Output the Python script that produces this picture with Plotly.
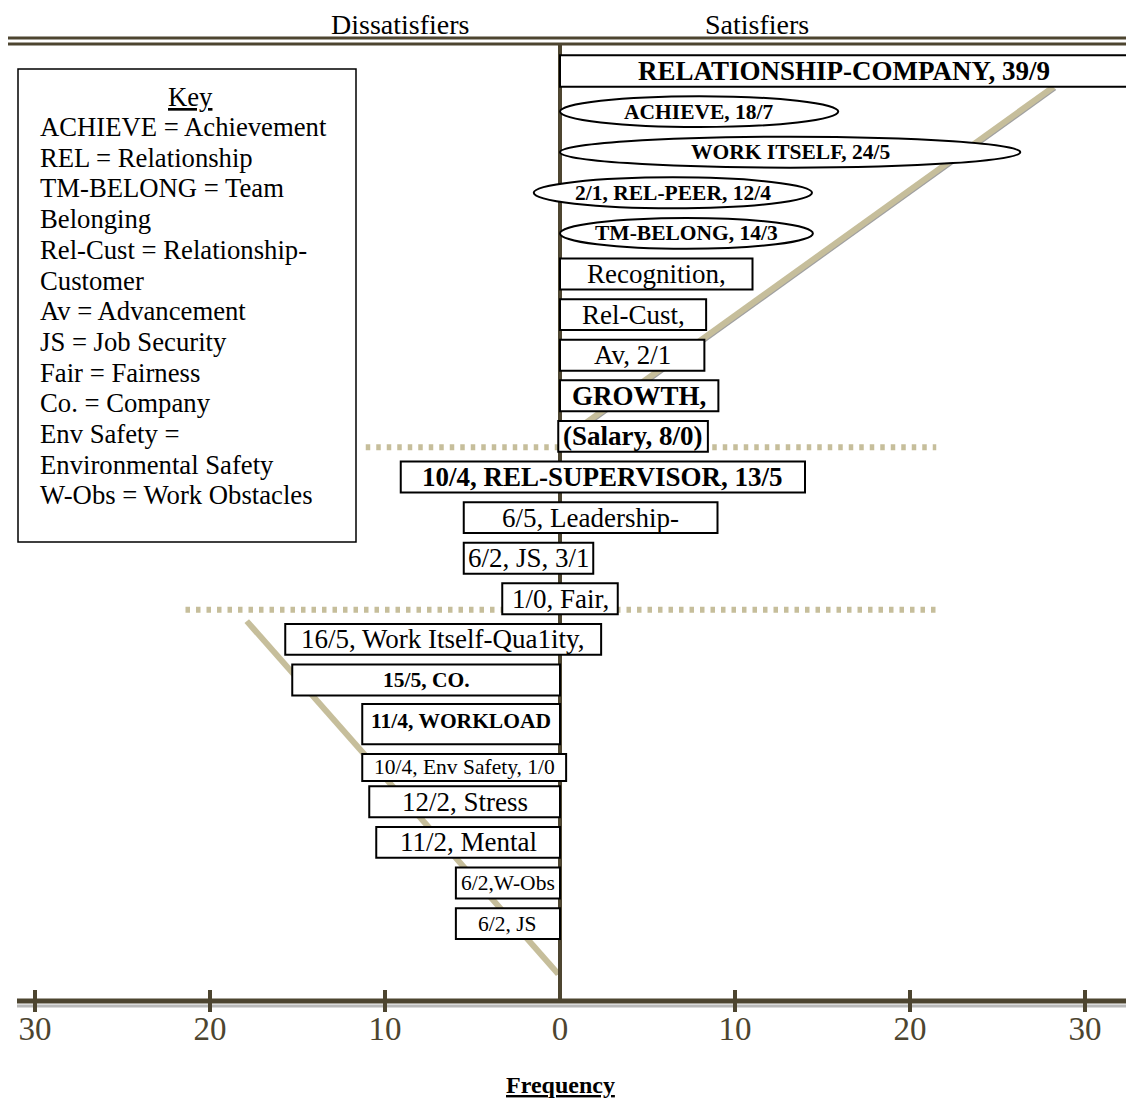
import plotly.graph_objects as go

# ---------------- data ----------------
factors = [
    "RELATIONSHIP-COMPANY, 39/9", "ACHIEVE, 18/7", "WORK ITSELF, 24/5",
    "2/1, REL-PEER, 12/4", "TM-BELONG, 14/3", "Recognition,", "Rel-Cust,",
    "Av, 2/1", "GROWTH,", "(Salary, 8/0)", "10/4, REL-SUPERVISOR, 13/5",
    "6/5, Leadership-", "6/2, JS, 3/1", "1/0, Fair,",
    "16/5, Work Itself-Qua1ity,", "15/5, CO.", "11/4, WORKLOAD",
    "10/4, Env Safety, 1/0", "12/2, Stress", "11/2, Mental", "6/2,W-Obs", "6/2, JS",
]
# extent of each box on the dissatisfier side (left of 0) and satisfier side (right of 0)
dissat_extent = [0, 0, 0, 1.5, 0, 0, 0, 0, 0, 0.1, 9.1, 5.5, 5.5, 3.3,
                 15.7, 15.3, 11.3, 11.3, 10.9, 10.5, 5.95, 5.95]
sat_extent = [32.5, 15.9, 26.3, 14.4, 14.45, 11.0, 8.35, 8.25, 9.05, 8.45,
              14.0, 9.0, 1.9, 3.3, 2.35, 0, 0, 0.35, 0, 0, 0, 0]
group_ends = [9, 13]            # last row of satisfier-only group, of shared group
divider_extent = [(-11.1, 21.5), (-21.4, 21.5)]
trend_sat = {"freq": [0.2, 28.2], "row": [9.06, 0.39]}
trend_dissat = {"freq": [-17.9, -0.1], "row": [13.55, 22.24]}
tick_vals = [-30, -20, -10, 0, 10, 20, 30]
tick_text = ["30", "20", "10", "0", "10", "20", "30"]
key_lines = [
    "ACHIEVE = Achievement", "REL = Relationship", "TM-BELONG = Team",
    "Belonging", "Rel-Cust = Relationship-", "Customer", "Av = Advancement",
    "JS = Job Security", "Fair = Fairness", "Co. = Company", "Env Safety =",
    "Environmental Safety", "W-Obs = Work Obstacles",
]

# ---------------- styles ----------------
W, H = 1134, 1109            # page size
OFF = 8                      # default page margin around the plot div
FW, FH = W - OFF, H - OFF    # figure size
SERIF = "Liberation Serif"
DARK = "#4d4530"
TAN = "#c6be9b"
BIG, SMALL, ELL = 27, 21.5, 21.5
# (shape, bold, font size, top offset, bottom offset, text offset)
row_style = [
    ("rect", True, BIG, -.39, .39, 0), ("circle", True, ELL, -.38, .38, 0),
    ("circle", True, ELL, -.38, .38, 0), ("circle", True, ELL, -.38, .38, 0),
    ("circle", True, ELL, -.38, .38, 0), ("rect", False, BIG, -.38, .38, 0),
    ("rect", False, BIG, -.38, .38, 0), ("rect", False, BIG, -.38, .38, 0),
    ("rect", True, BIG, -.38, .38, 0), ("rect", True, BIG, -.38, .38, 0),
    ("rect", True, BIG, -.38, .38, 0), ("rect", False, BIG, -.38, .38, 0),
    ("rect", False, BIG, -.38, .38, 0), ("rect", False, BIG, -.38, .38, 0),
    ("rect", False, BIG, -.38, .38, 0), ("rect", True, SMALL, -.38, .38, 0),
    ("rect", True, SMALL, -.41, .58, 0), ("rect", False, SMALL, -.18, .49, .15),
    ("rect", False, BIG, -.38, .38, 0), ("rect", False, BIG, -.38, .38, 0),
    ("rect", False, SMALL, -.38, .38, 0), ("rect", False, SMALL, -.38, .38, 0),
]

# axis geometry (page pixels): x in frequency units, y in row units
PX0, PXU = 560, 17.5          # page pixel of zero, pixels per frequency unit
PY0, PYU = 71, 40.6           # page pixel of row-0 centre, pixels per row
x_range = [(OFF - PX0) / PXU, (W - PX0) / PXU]
y_range = [(H - PY0) / PYU, (OFF - PY0) / PYU]


def py(p):  # page pixel -> paper y
    return 1 - (p - OFF) / FH


def pxp(p):  # page pixel -> paper x
    return (p - OFF) / FW


fig = go.Figure()
fig.add_trace(go.Scatter(x=[0], y=[0], mode="markers", marker=dict(opacity=0),
                         showlegend=False, hoverinfo="skip"))

shapes = []
annos = []

# trend lines (drawn first, under the boxes)
for tr in (trend_sat, trend_dissat):
    shapes.append(dict(type="line", xref="x", yref="y",
                       x0=tr["freq"][0] + 0.12, x1=tr["freq"][1] + 0.12,
                       y0=tr["row"][0] + 0.06, y1=tr["row"][1] + 0.06,
                       line=dict(color="#a0a0a0", width=2)))
    shapes.append(dict(type="line", xref="x", yref="y",
                       x0=tr["freq"][0], x1=tr["freq"][1],
                       y0=tr["row"][0], y1=tr["row"][1],
                       line=dict(color=TAN, width=6)))

# dotted dividers
for g, (a, b) in zip(group_ends, divider_extent):
    yy = g + 0.27
    shapes.append(dict(type="line", xref="x", yref="y", x0=a, x1=b, y0=yy, y1=yy,
                       line=dict(color=TAN, width=6, dash="4.5px,6px")))

# top double line and centre line
for p in (38, 44):
    shapes.append(dict(type="line", xref="paper", yref="paper", x0=0, x1=pxp(1129),
                       y0=py(p), y1=py(p), line=dict(color=DARK, width=3)))
shapes.append(dict(type="line", xref="x", yref="paper", x0=0, x1=0,
                   y0=py(44), y1=py(1000), line=dict(color=DARK, width=4)))
# bottom axis line, its shadow and crossing ticks
shapes.append(dict(type="line", xref="paper", yref="paper", x0=pxp(17), x1=1,
                   y0=py(1006), y1=py(1006), line=dict(color="#b8b8b8", width=3)))
shapes.append(dict(type="line", xref="paper", yref="paper", x0=pxp(17), x1=1,
                   y0=py(1001), y1=py(1001), line=dict(color=DARK, width=5)))
for v in tick_vals:
    if v != 0:
        shapes.append(dict(type="line", xref="x", yref="paper", x0=v, x1=v,
                           y0=py(990), y1=py(1012), line=dict(color=DARK, width=4)))

# factor boxes / ellipses
for i, lab in enumerate(factors):
    kind, bold, size, t0, t1, toff = row_style[i]
    x0, x1 = -dissat_extent[i], sat_extent[i]
    shapes.append(dict(type=kind, xref="x", yref="y", x0=x0, x1=x1,
                       y0=i + t0, y1=i + t1, fillcolor="white",
                       line=dict(color="black", width=2)))
    annos.append(dict(x=(x0 + x1) / 2, y=i + toff, xref="x", yref="y",
                      text=f"<b>{lab}</b>" if bold else lab, showarrow=False,
                      font=dict(family=SERIF, size=size, color="black"),
                      xanchor="center", yanchor="middle"))

# key box
shapes.append(dict(type="rect", xref="paper", yref="paper", x0=pxp(18), x1=pxp(356),
                   y0=py(69), y1=py(542), fillcolor="white",
                   line=dict(color="black", width=1.5)))
annos.append(dict(x=pxp(190), y=py(97), xref="paper", yref="paper", text="<u>Key</u>",
                  showarrow=False, font=dict(family=SERIF, size=26.7, color="black"),
                  xanchor="center", yanchor="middle"))
for k, line in enumerate(key_lines):
    annos.append(dict(x=pxp(38), y=py(127 + 30.7 * k), xref="paper", yref="paper",
                      text=line, showarrow=False,
                      font=dict(family=SERIF, size=26.7, color="black"),
                      xanchor="left", yanchor="middle"))

# titles (anchored to the top edge of the figure so they are not clipped)
for cx, ttl in ((400, "Dissatisfiers"), (757, "Satisfiers")):
    annos.append(dict(x=pxp(cx), y=1, xref="paper", yref="paper", text=ttl,
                      showarrow=False, font=dict(family=SERIF, size=28, color="black"),
                      xanchor="center", yanchor="top", borderpad=0))
annos.append(dict(x=0, y=py(1085), xref="x", yref="paper", text="<b><u>Frequency</u></b>",
                  showarrow=False, font=dict(family=SERIF, size=24, color="black"),
                  xanchor="center", yanchor="middle"))

fig.update_layout(
    width=FW, height=FH, margin=dict(l=0, r=0, t=0, b=0),
    paper_bgcolor="white", plot_bgcolor="white", showlegend=False,
    shapes=shapes, annotations=annos,
    xaxis=dict(range=x_range, anchor="free", position=py(1001), side="bottom",
               tickvals=tick_vals, ticktext=tick_text, ticks="", showgrid=False,
               zeroline=False, showline=False,
               tickfont=dict(family=SERIF, size=33, color=DARK),
               ticklabelstandoff=5, fixedrange=True),
    yaxis=dict(range=y_range, visible=False, showgrid=False, zeroline=False,
               fixedrange=True),
)
fig.write_html("out.html")
